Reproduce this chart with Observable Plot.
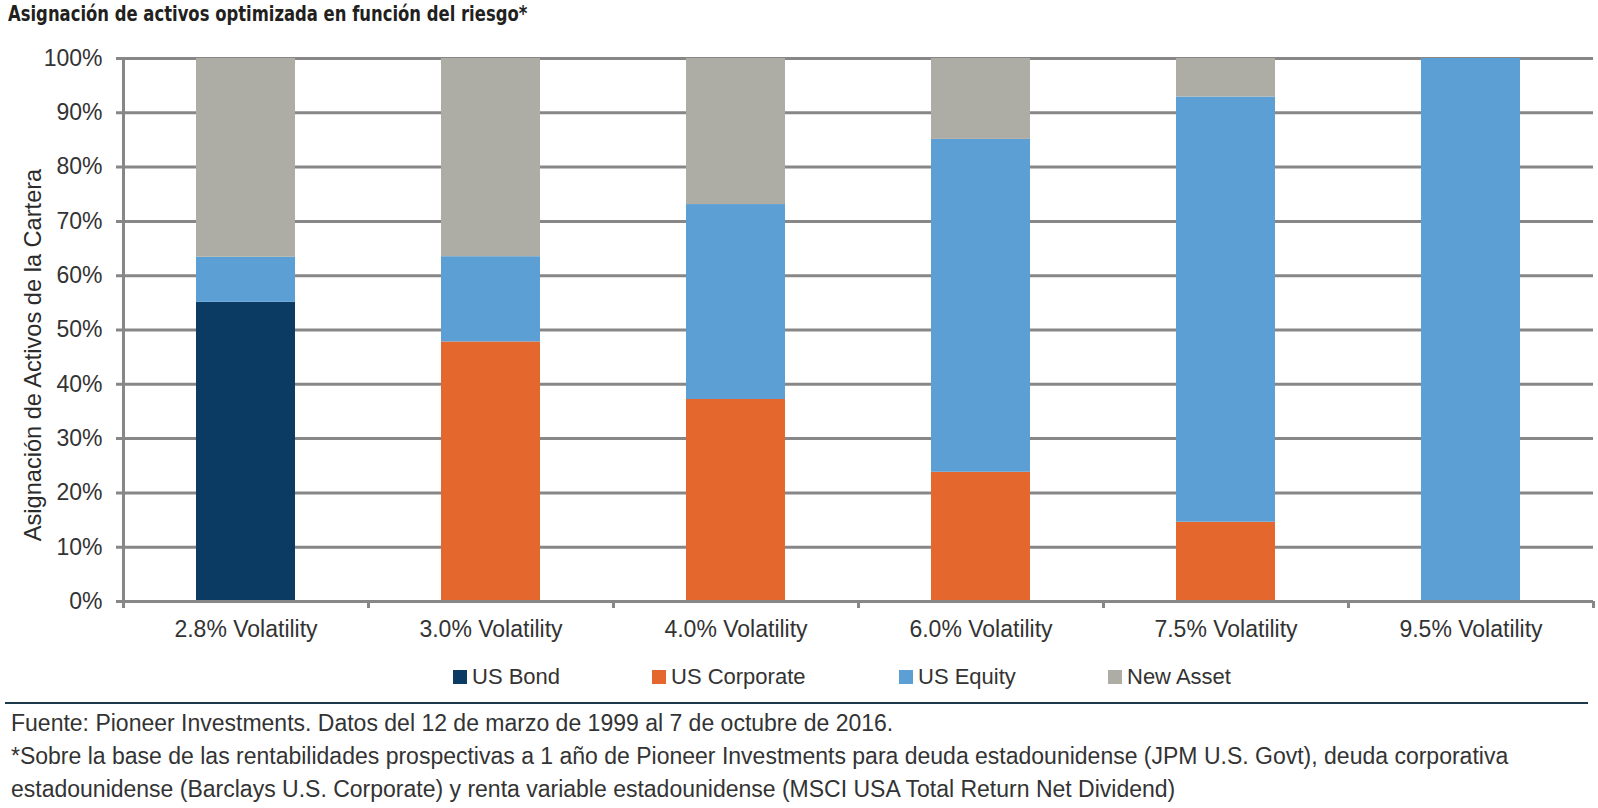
<!DOCTYPE html>
<html>
<head>
<meta charset="utf-8">
<script src="https://cdn.jsdelivr.net/npm/d3@7"></script>
<script src="https://cdn.jsdelivr.net/npm/@observablehq/plot@0.6"></script>
<style>
  body { margin: 0; background: #fff; }
  #wrap { position: relative; width: 1598px; height: 808px; font-family: "Liberation Sans", Arial, sans-serif; color: #333; overflow: hidden; }
  #title { position: absolute; left: 8px; top: 1px; font-family: "Liberation Sans Narrow", "DejaVu Sans Condensed", sans-serif; font-stretch: condensed; font-weight: bold; font-size: 22px; color: #231f20; white-space: nowrap; transform: scaleX(0.83); transform-origin: 0 0; }
  #chart { position: absolute; left: 0; top: 30px; }
  #legend { position: absolute; left: 0; top: 664px; width: 1598px; height: 26px; }
  .li { position: absolute; top: 0; display: flex; align-items: center; font-size: 22px; line-height: 26px; white-space: nowrap; }
  .sw { width: 14px; height: 14px; margin-right: 5px; }
  #rule { position: absolute; left: 5px; top: 702px; width: 1583px; height: 2px; background: #1c3a4a; }
  #foot { position: absolute; left: 11px; top: 707px; font-size: 23px; line-height: 33px; white-space: nowrap; }
</style>
</head>
<body>
<div id="wrap">
  <div id="title">Asignación de activos optimizada en función del riesgo*</div>
  <div id="chart"></div>
  <div id="legend"></div>
  <div id="rule"></div>
  <div id="foot">
    <div>Fuente: Pioneer Investments. Datos del 12 de marzo de 1999 al 7 de octubre de 2016.</div>
    <div>*Sobre la base de las rentabilidades prospectivas a 1 año de Pioneer Investments para deuda estadounidense (JPM U.S. Govt), deuda corporativa</div>
    <div>estadounidense (Barclays U.S. Corporate) y renta variable estadounidense (MSCI USA Total Return Net Dividend)</div>
  </div>
</div>
<script>
// ---- Data ----
const categories = ["2.8% Volatility", "3.0% Volatility", "4.0% Volatility", "6.0% Volatility", "7.5% Volatility", "9.5% Volatility"];
const assets = ["US Bond", "US Corporate", "US Equity", "New Asset"];
const usBond      = [55.1, 0,    0,    0,    0,    0];
const usCorporate = [0,    47.8, 37.2, 23.8, 14.6, 0];
const usEquity    = [8.3,  15.7, 35.9, 61.3, 78.3, 100];
const newAsset    = [36.6, 36.5, 26.9, 14.9, 7.1,  0];
const yTicks = [0, 10, 20, 30, 40, 50, 60, 70, 80, 90, 100];
const yLabel = "Asignación de Activos de la Cartera";
const colors = ["#0b3a63", "#e4682d", "#5b9fd5", "#adada5"];

const series = [usBond, usCorporate, usEquity, newAsset];
const rows = [];
categories.forEach((c, i) => {
  assets.forEach((a, j) => rows.push({cat: c, asset: a, value: series[j][i]}));
});

// ---- Layout ----
const W = 1598, H = 625, mL = 123, mR = 5, mT = 28, mB = 54;
const step = (W - mL - mR) / categories.length;
const gridColor = "#878787";
const font = '"Liberation Sans", Arial, sans-serif';

const chart = Plot.plot({
  width: W, height: H,
  marginTop: mT, marginBottom: mB, marginLeft: mL, marginRight: mR,
  style: {fontFamily: font, color: "#333", background: "transparent", overflow: "visible"},
  x: {domain: categories, paddingInner: 0.596, paddingOuter: 0.298, label: null},
  y: {domain: [0, 100], label: null},
  color: {domain: assets, range: colors},
  marks: [
    Plot.ruleY(yTicks, {y: d => d, stroke: gridColor, strokeWidth: 3, insetLeft: -7}),
    Plot.barY(rows, {x: "cat", y: "value", fill: "asset", order: assets}),
    Plot.ruleY([0], {y: d => d, stroke: gridColor, strokeWidth: 3, insetLeft: -7}),
    Plot.ruleX([categories[0]], {x: d => d, dx: -step / 2, stroke: gridColor, strokeWidth: 3}),
    Plot.ruleX(categories, {x: d => d, y1: 0, y2: 0, insetBottom: -7, dx: -step / 2, stroke: gridColor, strokeWidth: 3}),
    Plot.ruleX([categories[categories.length - 1]], {x: d => d, y1: 0, y2: 0, insetBottom: -7, dx: step / 2, stroke: gridColor, strokeWidth: 3}),
    Plot.axisY({ticks: yTicks, tickFormat: d => d + "%", tickSize: 0, tickPadding: 21, fontSize: 23, label: null}),
    Plot.axisX({tickSize: 0, tickPadding: 19, fontSize: 23, label: null}),
    Plot.text([yLabel], {frameAnchor: "left", textAnchor: "middle", rotate: -90, dx: -90, dy: 25, fontSize: 23.6, fill: "#2b2b2b"})
  ]
});
document.getElementById("chart").appendChild(chart);

// ---- Legend ----
const legendLeft = [453, 652, 899, 1108];
const legend = document.getElementById("legend");
assets.forEach((a, i) => {
  const item = document.createElement("div");
  item.className = "li";
  item.style.left = legendLeft[i] + "px";
  const sw = document.createElement("span");
  sw.className = "sw";
  sw.style.background = colors[i];
  const t = document.createElement("span");
  t.textContent = a;
  item.appendChild(sw);
  item.appendChild(t);
  legend.appendChild(item);
});
</script>
</body>
</html>
